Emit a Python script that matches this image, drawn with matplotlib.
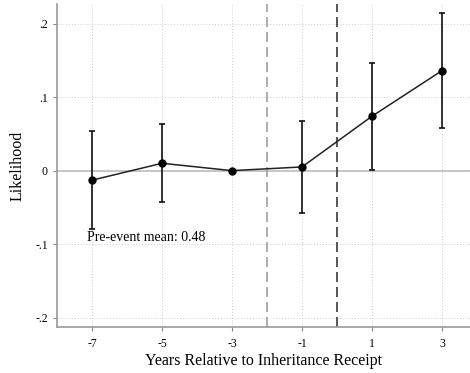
import matplotlib
matplotlib.use("Agg")
import matplotlib.pyplot as plt
import numpy as np

# event-study coefficients with 95% confidence bounds
years = [-7, -5, -3, -1, 1, 3]
coef = [-0.013, 0.010, 0.000, 0.005, 0.074, 0.136]
ci_low = [-0.079, -0.043, 0.000, -0.058, 0.001, 0.058]
ci_high = [0.054, 0.063, 0.000, 0.068, 0.146, 0.215]
ytick_vals = [-0.2, -0.1, 0.0, 0.1, 0.2]
ytick_labels = ["-.2", "-.1", "0", ".1", ".2"]
note = "Pre-event mean: 0.48"

plt.rcParams["font.family"] = ["Liberation Serif", "DejaVu Serif"]

fig = plt.figure(figsize=(4.70, 3.73), dpi=100)
ax = fig.add_axes([0.1213, 0.1233, 0.8787, 0.8657])

ax.set_xlim(-8, 3.8)
ax.set_ylim(-0.2127, 0.2265)

# grid and reference lines
ax.grid(True, color="#cccccc", linestyle=(0, (1, 2)), linewidth=0.7)
ax.set_axisbelow(True)
ax.axhline(0, color="#bdbdbd", linewidth=1.2, zorder=1)
ax.axvline(-2, color="#a0a0a0", linestyle=(0, (6, 3)), linewidth=1.2, zorder=1)
ax.axvline(0, color="#3a3a3a", linestyle=(0, (6, 3)), linewidth=1.2, zorder=1)

x = np.array(years)
c = np.array(coef)
err = [c - np.array(ci_low), np.array(ci_high) - c]
has_ci = (np.array(ci_high) - np.array(ci_low)) > 0
ax.errorbar(x[has_ci], c[has_ci], yerr=[err[0][has_ci], err[1][has_ci]],
            fmt="none", ecolor="#111111", elinewidth=1.2, capsize=2.5,
            capthick=1.2, zorder=3)
ax.plot(x, c, color="#222222", linewidth=1.1, marker="o", markersize=5,
        markerfacecolor="black", markeredgecolor="black", zorder=4)

ax.text(-7.14, -0.0916, note, fontsize=10, va="center", ha="left")

ax.set_xticks(years)
ax.set_xticklabels([str(v) for v in years])
ax.set_yticks(ytick_vals)
ax.set_yticklabels(ytick_labels)
ax.tick_params(axis="both", labelsize=8.5, color="#888888", length=3,
               width=0.8)
ax.tick_params(axis="x", pad=5)

for side in ["top", "right"]:
    ax.spines[side].set_visible(False)
for side in ["left", "bottom"]:
    ax.spines[side].set_color("#999999")
    ax.spines[side].set_linewidth(1.2)

ax.set_xlabel("Years Relative to Inheritance Receipt", fontsize=11.5,
              labelpad=2)
ax.set_ylabel("Likelihood", fontsize=11.5, labelpad=7)

fig.savefig("out.png", dpi=100)
